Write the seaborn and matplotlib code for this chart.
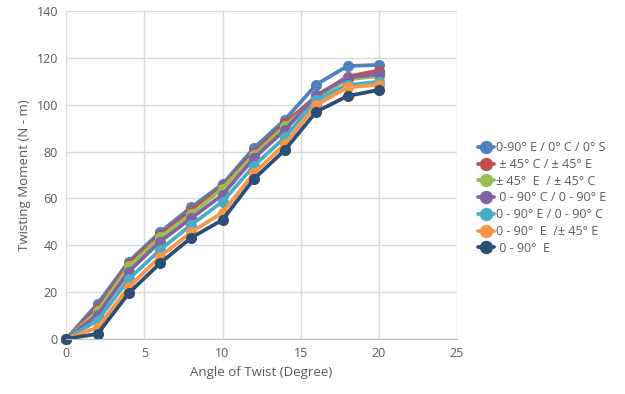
import numpy as np
import pandas as pd
import seaborn as sns
import matplotlib.pyplot as plt

angle = [0, 2, 4, 6, 8, 10, 12, 14, 16, 18, 20]

labels = [
    '0-90° E / 0° C / 0° S',
    ' ± 45° C / ± 45° E',
    '± 45°  E  / ± 45° C',
    ' 0 - 90° C / 0 - 90° E',
    '0 - 90° E / 0 - 90° C',
    '0 - 90°  E  /± 45° E',
    ' 0 - 90°  E',
]

blue = [0, 14.9, 33.0, 45.5, 56.2, 66.0, 81.4, 93.6, 108.6, 116.5, 117.0]
red = [0, 13.1, 32.0, 44.4, 54.8, 65.0, 79.5, 92.1, 103.6, 112.0, 114.6]
green = [0, 11.7, 30.9, 43.4, 53.3, 64.2, 78.5, 90.9, 102.7, 110.8, 112.2]
purple = [0, 10.2, 28.7, 41.5, 51.5, 61.5, 77.1, 89.2, 104.0, 111.6, 113.0]
cyan = [0, 7.8, 25.5, 38.0, 48.7, 58.6, 73.8, 86.1, 102.0, 108.4, 109.8]
orange = [0, 4.8, 22.1, 35.1, 45.5, 53.9, 70.7, 83.2, 99.9, 107.4, 108.6]
navy = [0, 2.1, 19.5, 32.3, 43.2, 50.8, 68.2, 80.7, 97.0, 103.7, 106.3]

colors = ['#4F81BD', '#C0504D', '#9BBB59', '#8064A2', '#4BACC6', '#F79646', '#2C4D75']

series = [blue, red, green, purple, cyan, orange, navy]
rows = []
for lab, vals in zip(labels, series):
    for a, v in zip(angle, vals):
        rows.append({'angle': a, 'moment': v, 'series': lab})
df = pd.DataFrame(rows)

sns.set_style('white')
plt.rcParams['font.family'] = ['Open Sans', 'DejaVu Sans']
grey = '#595959'

fig, ax = plt.subplots(figsize=(6.25, 3.94), dpi=100)
fig.subplots_adjust(left=0.106, right=0.731, bottom=0.14, top=0.972)

sns.lineplot(data=df, x='angle', y='moment', hue='series', hue_order=labels,
             palette=colors, marker='o', markersize=8, markeredgewidth=0,
             linewidth=2.7, clip_on=False, ax=ax)

ax.set_xlim(0, 25)
ax.set_ylim(0, 140)
ax.set_xticks(range(0, 26, 5))
ax.set_yticks(range(0, 141, 20))
ax.grid(True, color='#D9D9D9', linewidth=1)
ax.set_axisbelow(True)
for s in ['top', 'right', 'left']:
    ax.spines[s].set_visible(False)
ax.spines['bottom'].set_color('#BFBFBF')
ax.tick_params(axis='both', length=0, labelsize=9, colors=grey, pad=6)

ax.set_xlabel('Angle of Twist (Degree)', fontsize=9.5, color=grey)
ax.set_ylabel('Twisting Moment (N - m)', fontsize=9.5, color=grey)

ax.legend(loc='center left', bbox_to_anchor=(1.04, 0.43), frameon=False,
          fontsize=9, labelcolor=grey, handlelength=1.3, handletextpad=0.15,
          labelspacing=0.3, borderaxespad=0, markerscale=1.2)

fig.savefig('out.png', dpi=100)
